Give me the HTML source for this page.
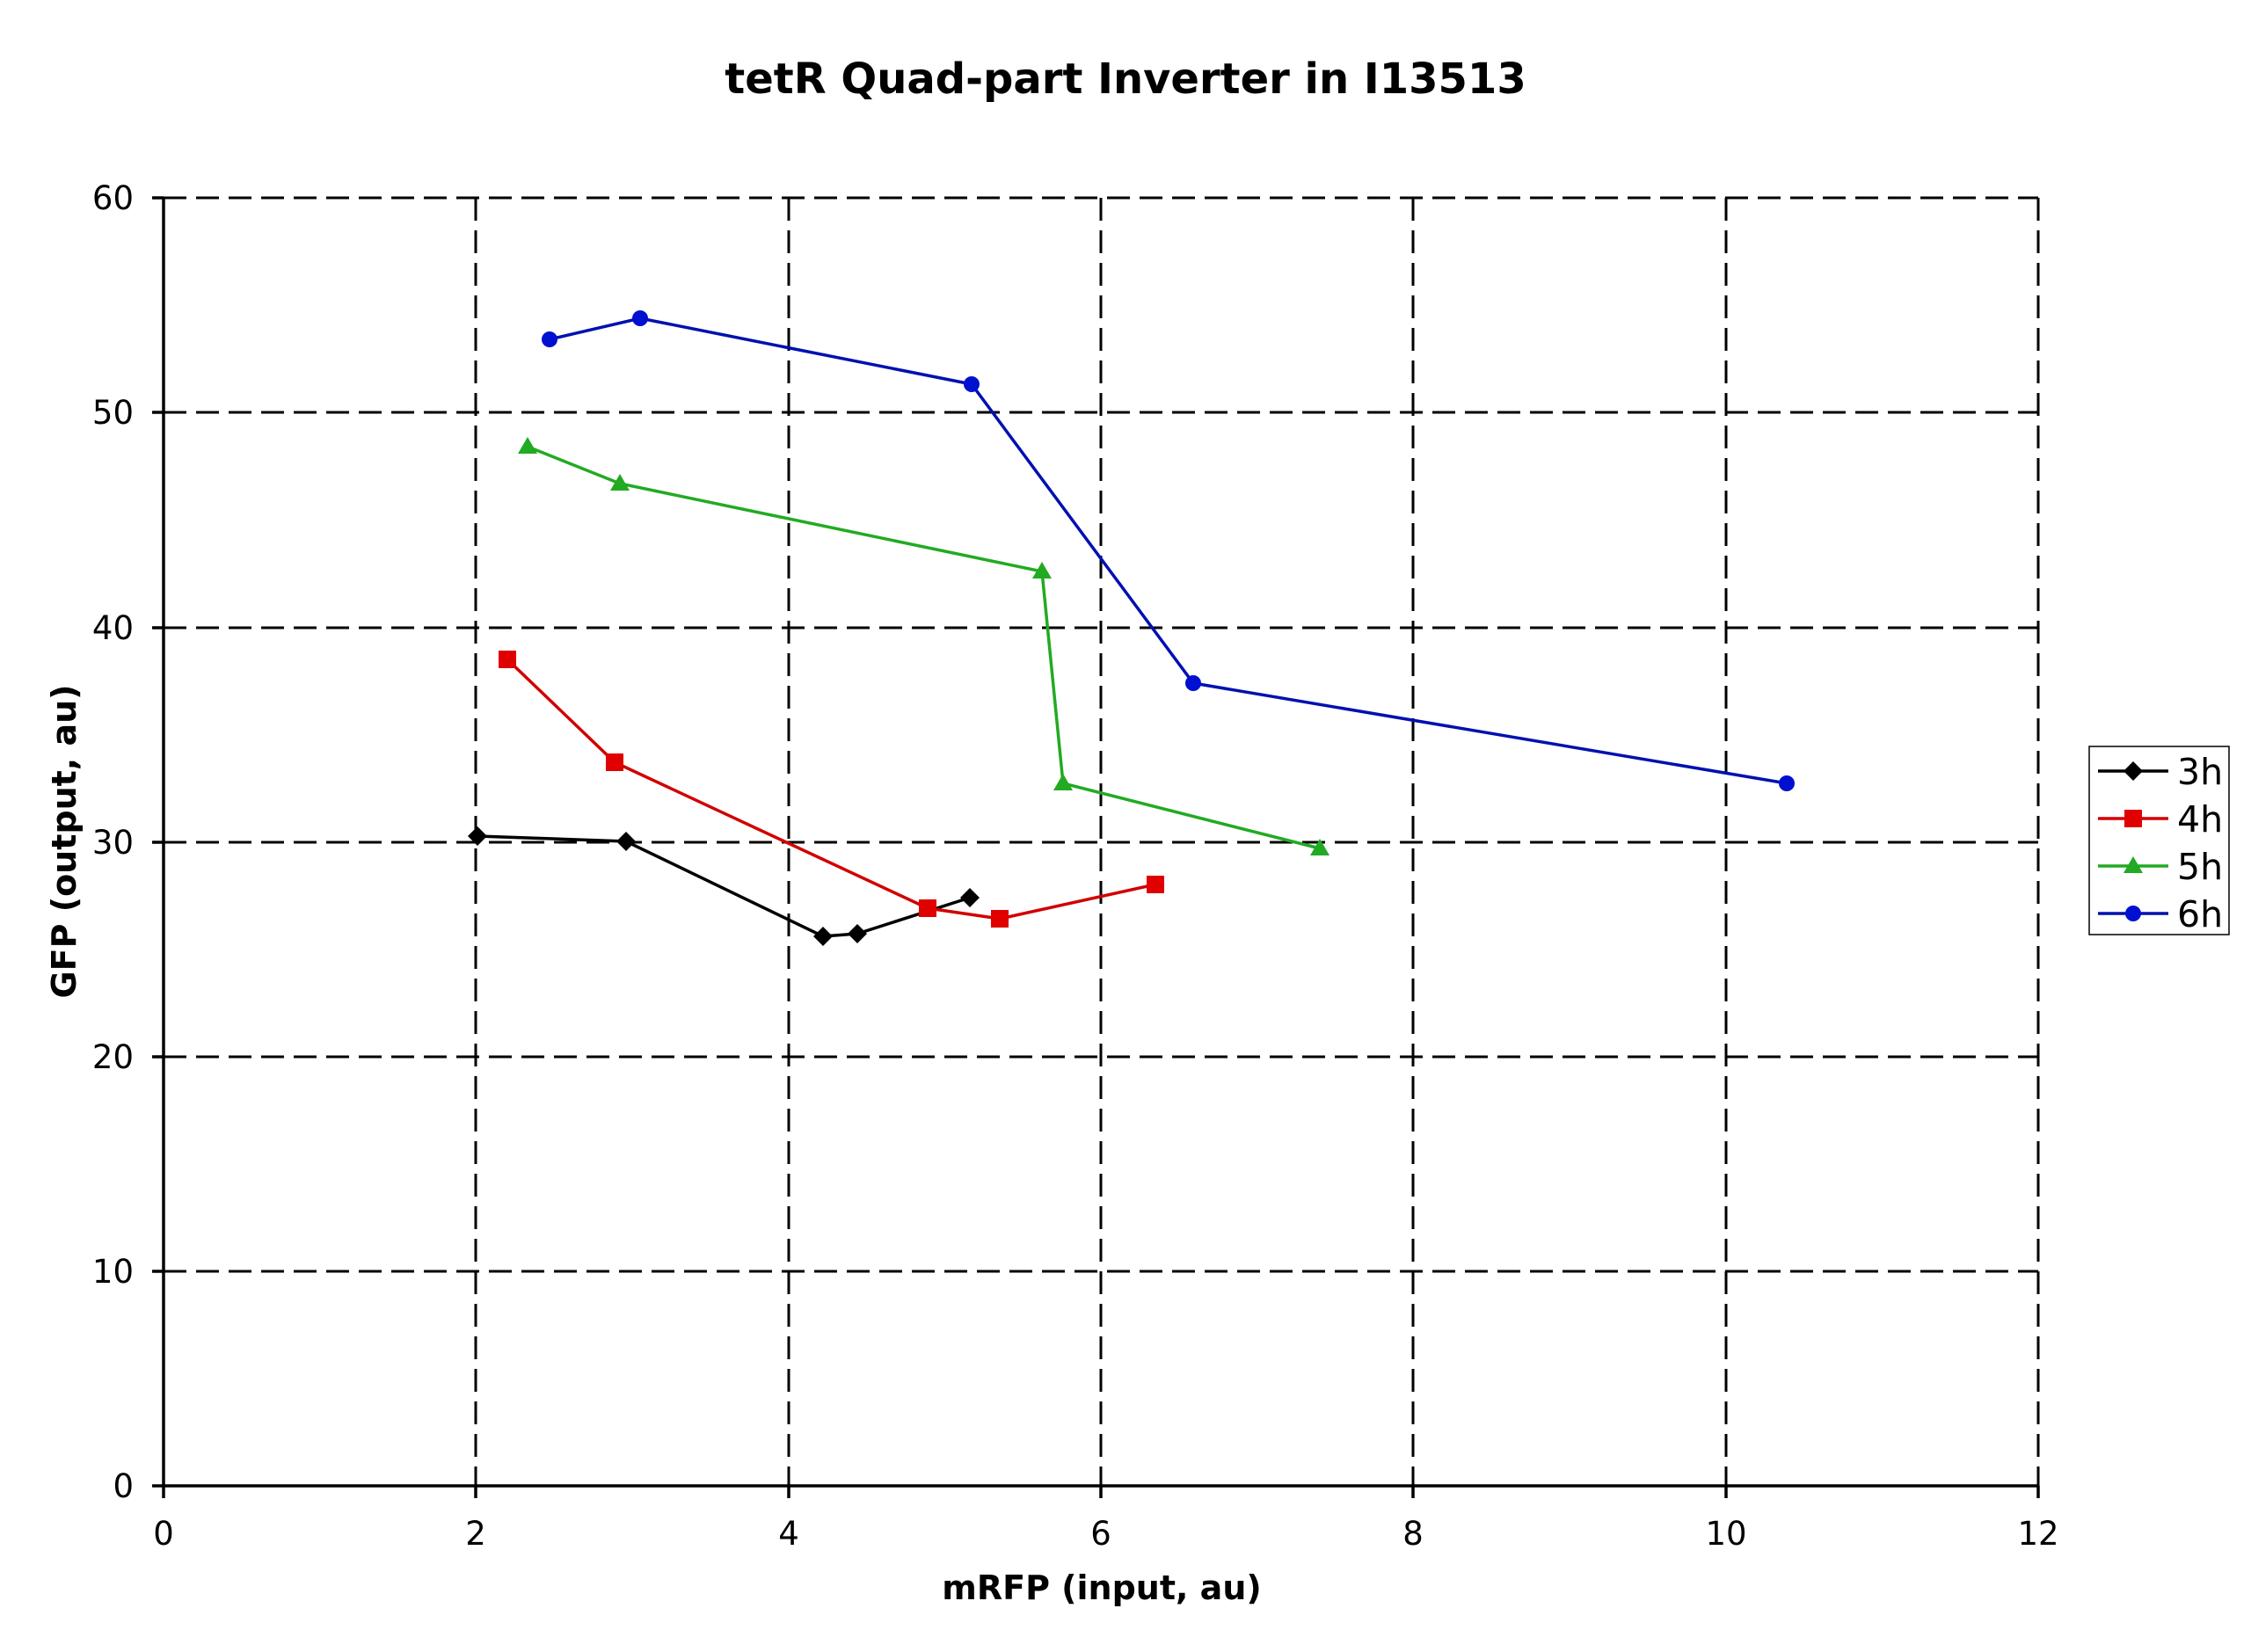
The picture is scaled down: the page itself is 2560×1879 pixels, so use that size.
<!DOCTYPE html>
<html><head><meta charset="utf-8"><style>html,body{margin:0;padding:0;background:#fff}</style></head>
<body>
<svg width="2560" height="1874" viewBox="0 0 2560 1874" xmlns="http://www.w3.org/2000/svg" font-family="'DejaVu Sans','Liberation Sans',sans-serif">
<rect width="2560" height="1874" fill="#fff"/>
<text x="1280" y="106" font-size="48" font-weight="bold" text-anchor="middle">tetR Quad-part Inverter in I13513</text>
<g stroke="#000" stroke-width="3" stroke-dasharray="26,11" fill="none">
<line x1="186" y1="225" x2="2318" y2="225"/>
<line x1="186" y1="469" x2="2318" y2="469"/>
<line x1="186" y1="714" x2="2318" y2="714"/>
<line x1="186" y1="958" x2="2318" y2="958"/>
<line x1="186" y1="1202" x2="2318" y2="1202"/>
<line x1="186" y1="1446" x2="2318" y2="1446"/>
<line x1="541" y1="225" x2="541" y2="1690"/>
<line x1="897" y1="225" x2="897" y2="1690"/>
<line x1="1252" y1="225" x2="1252" y2="1690"/>
<line x1="1607" y1="225" x2="1607" y2="1690"/>
<line x1="1963" y1="225" x2="1963" y2="1690"/>
<line x1="2318" y1="225" x2="2318" y2="1690"/>
</g>
<g stroke="#000" stroke-width="3.5" fill="none">
<line x1="186" y1="225" x2="186" y2="1690"/>
<line x1="186" y1="1690" x2="2318" y2="1690"/>
<path d="M173 225H186M173 469H186M173 714H186M173 958H186M173 1202H186M173 1446H186M173 1690H186"/>
<path d="M186 1690V1704M541 1690V1704M897 1690V1704M1252 1690V1704M1607 1690V1704M1963 1690V1704M2318 1690V1704"/>
</g>
<g font-size="37" text-anchor="end">
<text x="152" y="238">60</text><text x="152" y="482">50</text><text x="152" y="727">40</text>
<text x="152" y="971">30</text><text x="152" y="1215">20</text><text x="152" y="1459">10</text><text x="152" y="1703">0</text>
</g>
<g font-size="37" text-anchor="middle">
<text x="186" y="1757">0</text><text x="541" y="1757">2</text><text x="897" y="1757">4</text><text x="1252" y="1757">6</text>
<text x="1607" y="1757">8</text><text x="1963" y="1757">10</text><text x="2318" y="1757">12</text>
</g>
<text x="1253" y="1819" font-size="38" font-weight="bold" text-anchor="middle">mRFP (input, au)</text>
<text transform="translate(86,957) rotate(-90)" font-size="38" font-weight="bold" text-anchor="middle">GFP (output, au)</text>
<!-- 3h -->
<polyline points="543,951 712,957 936,1065 975,1062 1103,1021" fill="none" stroke="#000" stroke-width="3.5"/>
<g fill="#000">
<path d="M543,940 l11,11 -11,11 -11,-11z"/><path d="M712,946 l11,11 -11,11 -11,-11z"/><path d="M936,1054 l11,11 -11,11 -11,-11z"/><path d="M975,1051 l11,11 -11,11 -11,-11z"/><path d="M1103,1010 l11,11 -11,11 -11,-11z"/>
</g>
<!-- 4h -->
<polyline points="577,750 699,867 1055,1033 1137,1045 1314,1006" fill="none" stroke="#d10000" stroke-width="3.5"/>
<g fill="#e00000">
<rect x="567" y="740" width="20" height="20"/><rect x="689" y="857" width="20" height="20"/><rect x="1045" y="1023" width="20" height="20"/><rect x="1127" y="1035" width="20" height="20"/><rect x="1304" y="996" width="20" height="20"/>
</g>
<!-- 5h -->
<polyline points="600,508 705,550 1185,650 1209,891 1501,965" fill="none" stroke="#22aa22" stroke-width="3.5"/>
<g fill="#22aa22">
<path d="M600,497 l11,19 h-22z"/><path d="M705,539 l11,19 h-22z"/><path d="M1185,639 l11,19 h-22z"/><path d="M1209,880 l11,19 h-22z"/><path d="M1501,954 l11,19 h-22z"/>
</g>
<!-- 6h -->
<polyline points="625,386 728,362 1105,437 1357,777 2032,891" fill="none" stroke="#0010b0" stroke-width="3.5"/>
<g fill="#0010d0">
<circle cx="625" cy="386" r="9"/><circle cx="728" cy="362" r="9"/><circle cx="1105" cy="437" r="9"/><circle cx="1357" cy="777" r="9"/><circle cx="2032" cy="891" r="9"/>
</g>
<!-- legend -->
<rect x="2376" y="849" width="159" height="214" fill="#fff" stroke="#000" stroke-width="1.5"/>
<g stroke-width="3.5">
<line x1="2386" y1="877" x2="2466" y2="877" stroke="#000"/>
<line x1="2386" y1="931" x2="2466" y2="931" stroke="#d10000"/>
<line x1="2386" y1="985" x2="2466" y2="985" stroke="#22aa22"/>
<line x1="2386" y1="1039" x2="2466" y2="1039" stroke="#0010b0"/>
</g>
<path d="M2426,866 l11,11 -11,11 -11,-11z" fill="#000"/>
<rect x="2416" y="921" width="20" height="20" fill="#e00000"/>
<path d="M2426,974 l11,19 h-22z" fill="#22aa22"/>
<circle cx="2426" cy="1039" r="9" fill="#0010d0"/>
<g font-size="41">
<text x="2476" y="892">3h</text><text x="2476" y="946">4h</text><text x="2476" y="1000">5h</text><text x="2476" y="1054">6h</text>
</g>
</svg>
</body></html>
